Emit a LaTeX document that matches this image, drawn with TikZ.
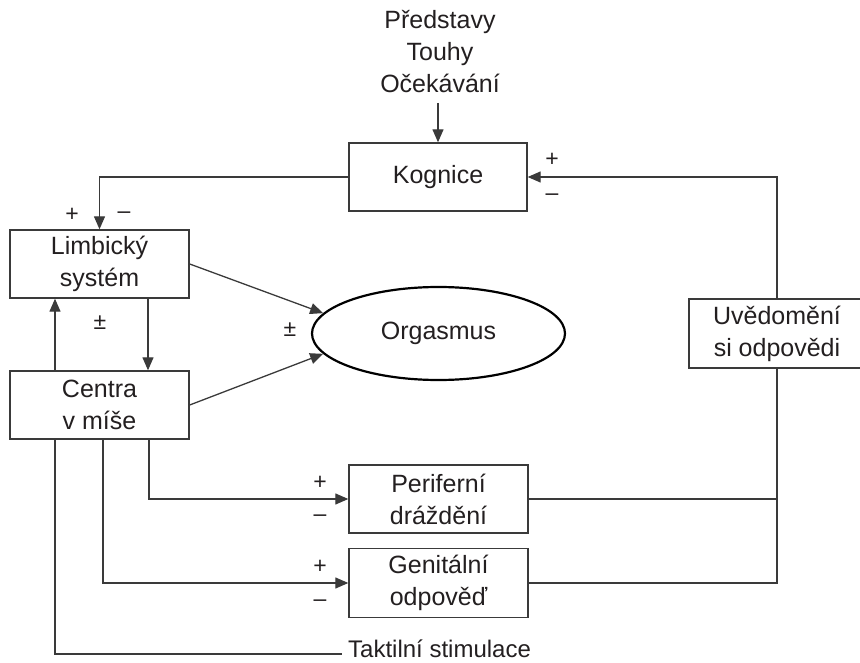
\documentclass[tikz,border=0pt]{standalone}
\usepackage{fontspec}
\setmainfont{Liberation Sans}
\usetikzlibrary{arrows.meta,shapes.geometric}
\definecolor{ink}{HTML}{231F20}
\definecolor{ln}{HTML}{3A3A3A}
\begin{document}
\begin{tikzpicture}[x=1pt,y=-1pt,
  every node/.style={text=ink,font=\fontsize{25}{32}\selectfont},
  box/.style={draw=ln,line width=1.4pt,rectangle,minimum width=179pt,minimum height=68pt,align=center,inner sep=0pt},
  ell/.style={draw=black,line width=2.2pt,ellipse,minimum width=253pt,minimum height=93pt,inner sep=0pt},
  conn/.style={draw=ln,line width=1.3pt},
  arr/.style={conn,-{Triangle[length=13pt,width=11pt]}},
  sign/.style={inner sep=0pt,font=\fontsize{23}{26}\selectfont}]
\useasboundingbox (0,0) rectangle (860,663);
\node[align=center,inner sep=0pt] (top) at (440,52) {Představy\\Touhy\\Očekávání};
\node[box,minimum width=178pt] (kog) at (438,177) {Kognice};
\node[box] (lim) at (99.5,264) {Limbický\\systém};
\node[box] (cen) at (99.5,405) {Centra\\v míše};
\node[ell] (org) at (438.5,333.5) {Orgasmus};
\node[box,minimum width=176pt,minimum height=69pt] (uve) at (777,333.5) {Uvědomění\\si odpovědi};
\node[box] (per) at (438.5,499) {Periferní\\dráždění};
\node[box,minimum height=69pt] (gen) at (438.5,583) {Genitální\\odpověď};
\node[anchor=west,inner sep=0pt,font=\fontsize{24}{30}\selectfont] (tak) at (348,649) {Taktilní stimulace};
\coordinate (topend) at (438,103);
% connectors
\draw[arr] (topend) -- (kog.north);
\draw[arr] (uve.north) |- (kog.east);
\draw[arr] (kog.west) -| (lim.north);
\draw[arr] ([xshift=48.5pt]lim.south) -- ([xshift=48.5pt]cen.north);
\draw[arr] ([xshift=-44.5pt]cen.north) -- ([xshift=-44.5pt]lim.south);
\draw[arr] (lim.east) -- (org.170);
\draw[arr] (cen.east) -- (org.190);
\draw[conn] (per.east) -| (uve.south);
\draw[conn] (gen.east) -| (uve.south);
\draw[arr] ([xshift=49.5pt]cen.south) |- (per.west);
\draw[arr] ([xshift=3.5pt]cen.south) |- (gen.west);
\draw[conn] ([xshift=-44.5pt]cen.south) |- ([xshift=-6pt,yshift=-5pt]tak.west);
% signs
\node[sign] (s1) at (72,215) {+};
\node[sign] (s2) at (124,215) {–};
\node[sign] (s3) at (552,160) {+};
\node[sign] (s4) at (552,197) {–};
\node[sign] (s5) at (100,323) {±};
\node[sign] (s6) at (290,330) {±};
\node[sign] (s7) at (320,483) {+};
\node[sign] (s8) at (320,518) {–};
\node[sign] (s9) at (320,567) {+};
\node[sign] (s10) at (320,603) {–};
\end{tikzpicture}
\end{document}
